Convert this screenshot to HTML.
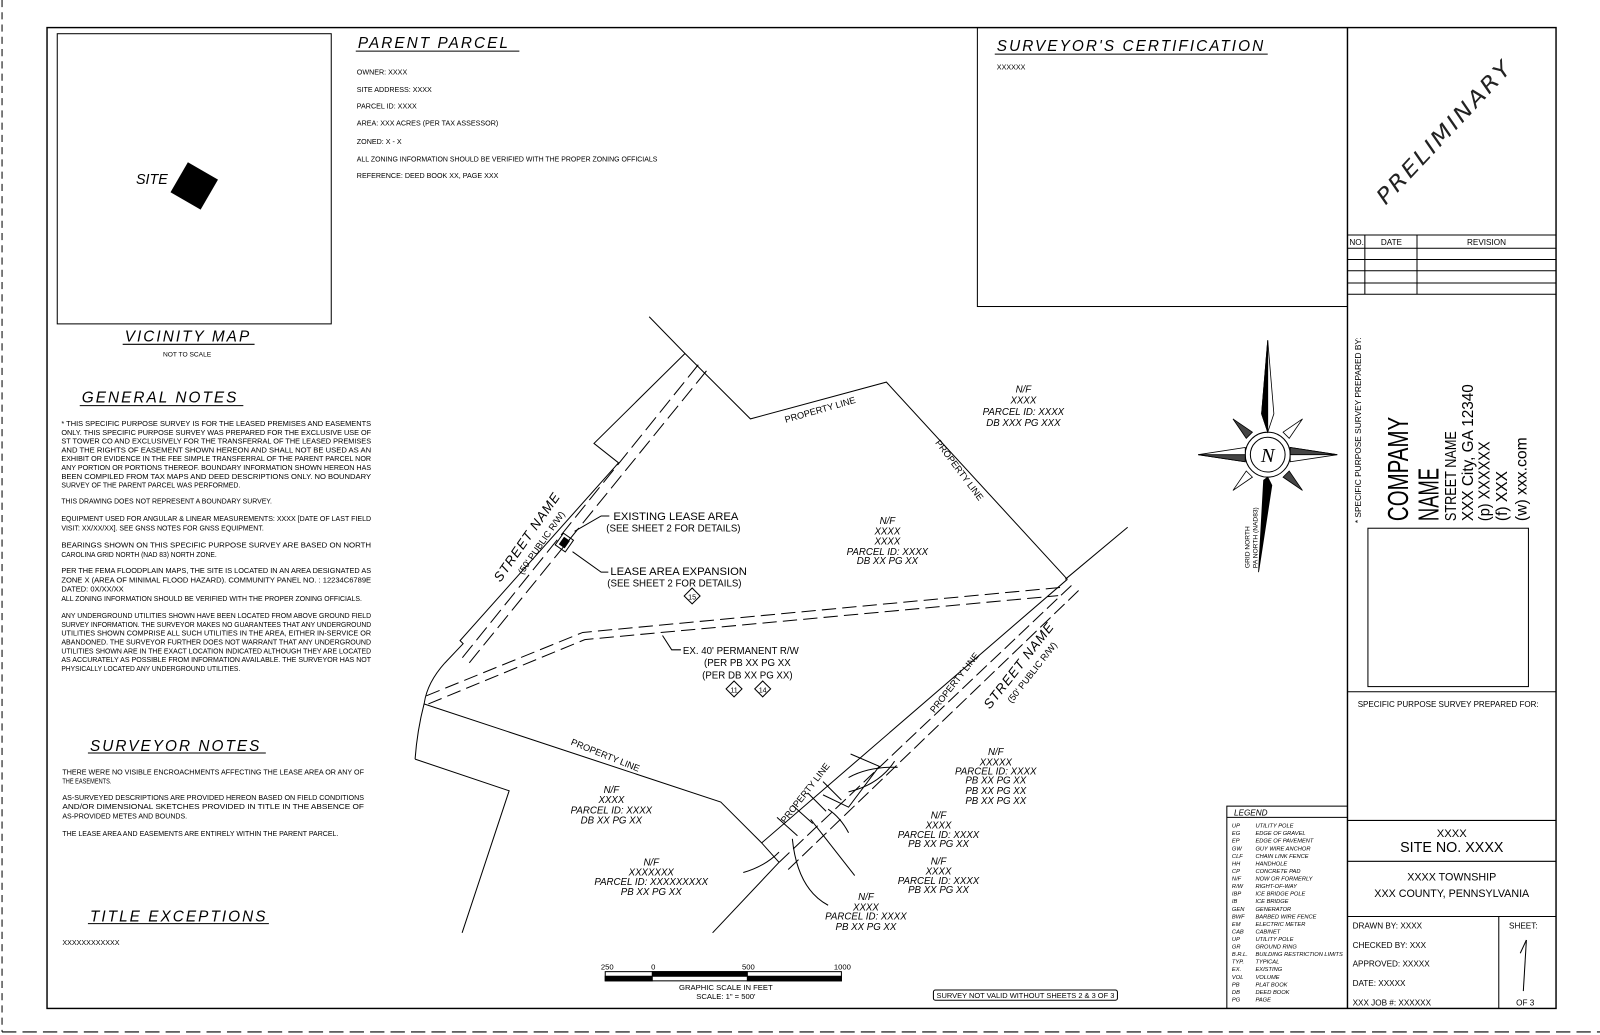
<!DOCTYPE html>
<html><head><meta charset="utf-8"><style>
html,body{margin:0;padding:0;background:#fff;}
svg{display:block;}
text{font-family:"Liberation Sans Narrow","Liberation Sans",sans-serif;fill:#000;}
.it{font-style:italic;}
.t{font-size:7px;}
.h{font-size:15px;font-style:italic;letter-spacing:2px;}
</style></head><body>
<svg width="1600" height="1035" viewBox="0 0 1565 1013" preserveAspectRatio="none" xmlns="http://www.w3.org/2000/svg">
<rect width="1565" height="1013" fill="#fff"/>
<g stroke="#000" fill="none" stroke-width="1">
<line x1="2" y1="0" x2="2" y2="1010" stroke-dasharray="7,5"/>
<line x1="2" y1="1010" x2="1565" y2="1010" stroke-dasharray="14,6"/>
<rect x="46" y="27" width="1476" height="960" stroke-width="1.4"/>
<rect x="56" y="33" width="268" height="284"/>
<rect x="956" y="27" width="362" height="273"/>
<line x1="1318" y1="27" x2="1318" y2="987" stroke-width="1.4"/>
<line x1="1318" y1="230" x2="1522" y2="230"/>
<line x1="1318" y1="243" x2="1522" y2="243"/>
<line x1="1318" y1="254" x2="1522" y2="254"/>
<line x1="1318" y1="265" x2="1522" y2="265"/>
<line x1="1318" y1="277" x2="1522" y2="277"/>
<line x1="1318" y1="288" x2="1522" y2="288"/>
<line x1="1335" y1="230" x2="1335" y2="288"/>
<line x1="1386" y1="230" x2="1386" y2="288"/>
<rect x="1338" y="517" width="157" height="155"/>
<line x1="1318" y1="677" x2="1522" y2="677"/>
<line x1="1318" y1="803" x2="1522" y2="803"/>
<line x1="1318" y1="843" x2="1522" y2="843"/>
<line x1="1318" y1="897" x2="1522" y2="897"/>
<line x1="1466" y1="897" x2="1466" y2="987"/>
<rect x="1200" y="789" width="118" height="198"/>
<line x1="1200" y1="800" x2="1318" y2="800"/>
<line x1="348" y1="50" x2="508" y2="50"/>
<line x1="973" y1="53" x2="1240" y2="53"/>
<line x1="120" y1="337" x2="249" y2="337"/>
<line x1="78" y1="397" x2="238" y2="397"/>
<line x1="86" y1="737" x2="260" y2="737"/>
<line x1="86" y1="904" x2="263" y2="904"/>
<polyline points="635,310 670,346 734,410 867,374 1044,567"/>
<polyline points="670,346 581,434 605,453 450,627 453,630 435,649"/>
<path d="M435,649 Q418,668 415,688 Q408,715 406,743"/>
<line x1="683" y1="357" x2="452" y2="644" stroke-dasharray="16,6"/>
<line x1="691" y1="363" x2="458" y2="650" stroke-dasharray="16,6"/>
<polyline points="417,681 570,619 1037,575" stroke-dasharray="14,6"/>
<polyline points="419,689 572,626 1035,583" stroke-dasharray="14,6"/>
<polyline points="648,622 657,636 666,636"/>
<polyline points="415,689 705,785 745,825"/>
<polyline points="406,743 498,774 452,913"/>
<line x1="1103" y1="516" x2="1042" y2="567"/>
<line x1="1044" y1="567" x2="745" y2="825"/>
<line x1="1048" y1="573" x2="762" y2="844" stroke-dasharray="14,5"/>
<line x1="1055" y1="578" x2="770" y2="852" stroke-dasharray="14,5"/>
<line x1="762" y1="844" x2="697" y2="913"/>
<polyline points="832,738 860,750 830,790 805,778"/>
<line x1="760" y1="800" x2="780" y2="818"/>
<line x1="775" y1="788" x2="795" y2="806"/>
<line x1="790" y1="776" x2="808" y2="794"/>
<line x1="805" y1="765" x2="823" y2="783"/>
<line x1="745" y1="825" x2="762" y2="844"/>
<path d="M727,854 Q748,848 762,834"/>
<path d="M775,821 Q780,870 810,886"/>
<path d="M793,802 Q815,830 836,857"/>
<path d="M810,792 Q822,800 830,815"/>
<path d="M830,761 Q850,750 878,751"/>
<path d="M830,775 Q860,768 875,745"/>
<rect x="546" y="524" width="12" height="14" transform="rotate(35 552 531)"/>
<rect x="549" y="527" width="6" height="8" transform="rotate(35 552 531)" fill="#000"/>
<polyline points="562,520 588,505 596,505"/>
<polyline points="560,540 588,560 595,560"/>
<rect x="671" y="578" width="11" height="11" transform="rotate(45 677 584)"/>
<rect x="712" y="669" width="11" height="11" transform="rotate(45 718 675)"/>
<rect x="740" y="669" width="11" height="11" transform="rotate(45 746 675)"/>
<rect x="592" y="951" width="231" height="9"/>
<rect x="592" y="955.5" width="46" height="4.5" fill="#000"/>
<rect x="638" y="951" width="93" height="4.5" fill="#000"/>
<rect x="731" y="955.5" width="92" height="4.5" fill="#000"/>
<rect x="913" y="969" width="180" height="10" rx="2"/>
<circle cx="1240" cy="445" r="22"/>
<circle cx="1240" cy="445" r="17"/>
</g>
<rect x="173" y="165" width="34" height="34" transform="rotate(30 190 182)" fill="#000"/>
<g stroke="#000" stroke-width="0.8">
<polygon points="1240,333 1246,405 1240,423 1234,405" fill="#fff"/>
<polygon points="1240,333 1240,423 1234,405" fill="#000"/>
<polygon points="1240,467 1244,475 1231,560 1236,470" fill="#000"/>
<polygon points="1172,445 1218,438 1218,452" fill="#fff"/>
<polygon points="1172,445 1218,445 1218,452" fill="#444"/>
<polygon points="1308,445 1262,438 1262,452" fill="#fff"/>
<polygon points="1308,445 1262,445 1262,438" fill="#444"/>
<polygon points="1206,410 1225,423 1219,429" fill="#444"/>
<polygon points="1274,410 1255,423 1261,429" fill="#fff"/>
<polygon points="1206,480 1225,467 1219,461" fill="#fff"/>
<polygon points="1274,480 1255,467 1261,461" fill="#444"/>
</g>
<text x="1240" y="452" text-anchor="middle" style="font-family:'Liberation Serif',serif;font-style:italic;font-size:20px">N</text>
<g class="t"><text transform="translate(1222,556) rotate(-90)" font-size="6.5">GRID NORTH</text><text transform="translate(1230,556) rotate(-90)" font-size="6.5">PA NORTH (NAD83)</text></g>
<text x="350" y="47" class="h">PARENT PARCEL</text>
<text x="975" y="50" class="h">SURVEYOR'S CERTIFICATION</text>
<text x="122" y="334" class="h">VICINITY MAP</text>
<text x="80" y="394" class="h">GENERAL NOTES</text>
<text x="88" y="735" class="h">SURVEYOR NOTES</text>
<text x="88" y="902" class="h">TITLE EXCEPTIONS</text>
<text x="133" y="180" class="it" font-size="14">SITE</text>
<text x="183" y="349" text-anchor="middle" font-size="6.5">NOT TO SCALE</text>
<g class="t">
<text x="349" y="73">OWNER: XXXX</text>
<text x="349" y="90">SITE ADDRESS: XXXX</text>
<text x="349" y="106">PARCEL ID: XXXX</text>
<text x="349" y="123">AREA: XXX ACRES (PER TAX ASSESSOR)</text>
<text x="349" y="141">ZONED: X - X</text>
<text x="349" y="158" textLength="294" lengthAdjust="spacingAndGlyphs">ALL ZONING INFORMATION SHOULD BE VERIFIED WITH THE PROPER ZONING OFFICIALS</text>
<text x="349" y="174">REFERENCE: DEED BOOK XX, PAGE XXX</text>
<text x="975" y="68">XXXXXX</text>
<text x="61" y="925">XXXXXXXXXXXX</text>
</g>
<g class="t">
<text x="60" y="417" textLength="303" lengthAdjust="spacingAndGlyphs">* THIS SPECIFIC PURPOSE SURVEY IS FOR THE LEASED PREMISES AND EASEMENTS</text>
<text x="60" y="425.6" textLength="303" lengthAdjust="spacingAndGlyphs">ONLY. THIS SPECIFIC PURPOSE SURVEY WAS PREPARED FOR THE EXCLUSIVE USE OF</text>
<text x="60" y="434.2" textLength="303" lengthAdjust="spacingAndGlyphs">ST TOWER CO AND EXCLUSIVELY FOR THE TRANSFERRAL OF THE LEASED PREMISES</text>
<text x="60" y="442.8" textLength="303" lengthAdjust="spacingAndGlyphs">AND THE RIGHTS OF EASEMENT SHOWN HEREON AND SHALL NOT BE USED AS AN</text>
<text x="60" y="451.4" textLength="303" lengthAdjust="spacingAndGlyphs">EXHIBIT OR EVIDENCE IN THE FEE SIMPLE TRANSFERRAL OF THE PARENT PARCEL NOR</text>
<text x="60" y="460" textLength="303" lengthAdjust="spacingAndGlyphs">ANY PORTION OR PORTIONS THEREOF. BOUNDARY INFORMATION SHOWN HEREON HAS</text>
<text x="60" y="468.6" textLength="303" lengthAdjust="spacingAndGlyphs">BEEN COMPILED FROM TAX MAPS AND DEED DESCRIPTIONS ONLY. NO BOUNDARY</text>
<text x="60" y="477.2" textLength="175" lengthAdjust="spacingAndGlyphs">SURVEY OF THE PARENT PARCEL WAS PERFORMED.</text>
<text x="60" y="493" textLength="206" lengthAdjust="spacingAndGlyphs">THIS DRAWING DOES NOT REPRESENT A BOUNDARY SURVEY.</text>
<text x="60" y="510" textLength="303" lengthAdjust="spacingAndGlyphs">EQUIPMENT USED FOR ANGULAR &amp; LINEAR MEASUREMENTS: XXXX [DATE OF LAST FIELD</text>
<text x="60" y="519" textLength="198" lengthAdjust="spacingAndGlyphs">VISIT: XX/XX/XX]. SEE GNSS NOTES FOR GNSS EQUIPMENT.</text>
<text x="60" y="536" textLength="303" lengthAdjust="spacingAndGlyphs">BEARINGS SHOWN ON THIS SPECIFIC PURPOSE SURVEY ARE BASED ON NORTH</text>
<text x="60" y="545" textLength="152" lengthAdjust="spacingAndGlyphs">CAROLINA GRID NORTH (NAD 83) NORTH ZONE.</text>
<text x="60" y="561" textLength="303" lengthAdjust="spacingAndGlyphs">PER THE FEMA FLOODPLAIN MAPS, THE SITE IS LOCATED IN AN AREA DESIGNATED AS</text>
<text x="60" y="570" textLength="303" lengthAdjust="spacingAndGlyphs">ZONE X (AREA OF MINIMAL FLOOD HAZARD). COMMUNITY PANEL NO. : 12234C6789E</text>
<text x="60" y="579" textLength="61" lengthAdjust="spacingAndGlyphs">DATED: 0X/XX/XX</text>
<text x="60" y="588" textLength="294" lengthAdjust="spacingAndGlyphs">ALL ZONING INFORMATION SHOULD BE VERIFIED WITH THE PROPER ZONING OFFICIALS.</text>
<text x="60" y="605" textLength="303" lengthAdjust="spacingAndGlyphs">ANY UNDERGROUND UTILITIES SHOWN HAVE BEEN LOCATED FROM ABOVE GROUND FIELD</text>
<text x="60" y="613.6" textLength="303" lengthAdjust="spacingAndGlyphs">SURVEY INFORMATION. THE SURVEYOR MAKES NO GUARANTEES THAT ANY UNDERGROUND</text>
<text x="60" y="622.2" textLength="303" lengthAdjust="spacingAndGlyphs">UTILITIES SHOWN COMPRISE ALL SUCH UTILITIES IN THE AREA, EITHER IN-SERVICE OR</text>
<text x="60" y="630.8" textLength="303" lengthAdjust="spacingAndGlyphs">ABANDONED. THE SURVEYOR FURTHER DOES NOT WARRANT THAT ANY UNDERGROUND</text>
<text x="60" y="639.4" textLength="303" lengthAdjust="spacingAndGlyphs">UTILITIES SHOWN ARE IN THE EXACT LOCATION INDICATED ALTHOUGH THEY ARE LOCATED</text>
<text x="60" y="648" textLength="303" lengthAdjust="spacingAndGlyphs">AS ACCURATELY AS POSSIBLE FROM INFORMATION AVAILABLE. THE SURVEYOR HAS NOT</text>
<text x="60" y="656.6" textLength="175" lengthAdjust="spacingAndGlyphs">PHYSICALLY LOCATED ANY UNDERGROUND UTILITIES.</text>
<text x="61" y="758" textLength="295" lengthAdjust="spacingAndGlyphs">THERE WERE NO VISIBLE ENCROACHMENTS AFFECTING THE LEASE AREA OR ANY OF</text>
<text x="61" y="767" textLength="48" lengthAdjust="spacingAndGlyphs">THE EASEMENTS.</text>
<text x="61" y="783" textLength="295" lengthAdjust="spacingAndGlyphs">AS-SURVEYED DESCRIPTIONS ARE PROVIDED HEREON BASED ON FIELD CONDITIONS</text>
<text x="61" y="792" textLength="295" lengthAdjust="spacingAndGlyphs">AND/OR DIMENSIONAL SKETCHES PROVIDED IN TITLE IN THE ABSENCE OF</text>
<text x="61" y="801" textLength="122" lengthAdjust="spacingAndGlyphs">AS-PROVIDED METES AND BOUNDS.</text>
<text x="61" y="818" textLength="270" lengthAdjust="spacingAndGlyphs">THE LEASE AREA AND EASEMENTS ARE ENTIRELY WITHIN THE PARENT PARCEL.</text>
</g>
<g font-size="9">
<text transform="translate(803,404) rotate(-16)" text-anchor="middle">PROPERTY LINE</text>
<text transform="translate(936,462) rotate(53)" text-anchor="middle">PROPERTY LINE</text>
<text transform="translate(591,742) rotate(22)" text-anchor="middle">PROPERTY LINE</text>
<text transform="translate(936,670) rotate(-52)" text-anchor="middle">PROPERTY LINE</text>
<text transform="translate(790,778) rotate(-52)" text-anchor="middle">PROPERTY LINE</text>
</g>
<text transform="translate(519,528) rotate(-55)" text-anchor="middle" class="it" font-size="13" letter-spacing="1">STREET NAME</text>
<text transform="translate(532,533) rotate(-55)" text-anchor="middle" font-size="9">(50' PUBLIC R/W)</text>
<text transform="translate(1000,654) rotate(-52)" text-anchor="middle" class="it" font-size="13" letter-spacing="1">STREET NAME</text>
<text transform="translate(1012,660) rotate(-52)" text-anchor="middle" font-size="9">(50' PUBLIC R/W)</text>
<text x="600" y="509" font-size="11">EXISTING LEASE AREA</text>
<text x="593" y="520" font-size="9.5">(SEE SHEET 2 FOR DETAILS)</text>
<text x="597" y="563" font-size="11">LEASE AREA EXPANSION</text>
<text x="594" y="574" font-size="9.5">(SEE SHEET 2 FOR DETAILS)</text>
<g font-size="7" text-anchor="middle"><text x="677" y="587">15</text><text x="718" y="678">11</text><text x="746" y="678">14</text></g>
<g font-size="9.5" text-anchor="middle">
<text x="668" y="640" text-anchor="start">EX. 40' PERMANENT R/W</text>
<text x="731" y="652">(PER PB XX PG XX</text>
<text x="731" y="664">(PER DB XX PG XX)</text>
</g>
<g class="it" font-size="9.5" text-anchor="middle">
<text x="1001" y="384">N/F</text><text x="1001" y="395">XXXX</text><text x="1001" y="406">PARCEL ID: XXXX</text><text x="1001" y="417">DB XXX PG XXX</text>
<text x="868" y="513">N/F</text><text x="868" y="523">XXXX</text><text x="868" y="533">XXXX</text><text x="868" y="543">PARCEL ID: XXXX</text><text x="868" y="552">DB XX PG XX</text>
<text x="598" y="776">N/F</text><text x="598" y="786">XXXX</text><text x="598" y="796">PARCEL ID: XXXX</text><text x="598" y="806">DB XX PG XX</text>
<text x="974" y="739">N/F</text><text x="974" y="749">XXXXX</text><text x="974" y="758">PARCEL ID: XXXX</text><text x="974" y="767">PB XX PG XX</text><text x="974" y="777">PB XX PG XX</text><text x="974" y="787">PB XX PG XX</text>
<text x="918" y="801">N/F</text><text x="918" y="811">XXXX</text><text x="918" y="820">PARCEL ID: XXXX</text><text x="918" y="829">PB XX PG XX</text>
<text x="918" y="846">N/F</text><text x="918" y="856">XXXX</text><text x="918" y="865">PARCEL ID: XXXX</text><text x="918" y="874">PB XX PG XX</text>
<text x="637" y="847">N/F</text><text x="637" y="857">XXXXXXX</text><text x="637" y="866">PARCEL ID: XXXXXXXXX</text><text x="637" y="876">PB XX PG XX</text>
<text x="847" y="881">N/F</text><text x="847" y="891">XXXX</text><text x="847" y="900">PARCEL ID: XXXX</text><text x="847" y="910">PB XX PG XX</text>
</g>
<g font-size="7.5" text-anchor="middle">
<text x="594" y="949">250</text><text x="639" y="949">0</text><text x="732" y="949">500</text><text x="824" y="949">1000</text>
<text x="710" y="969">GRAPHIC SCALE IN FEET</text>
<text x="710" y="978">SCALE: 1" = 500'</text>
</g>
<text x="1003" y="977" font-size="7" text-anchor="middle" textLength="174" lengthAdjust="spacingAndGlyphs">SURVEY NOT VALID WITHOUT SHEETS 2 &amp; 3 OF 3</text>
<text transform="translate(1418,134) rotate(-47)" text-anchor="middle" font-size="21" letter-spacing="2" style="font-family:'DejaVu Sans','Liberation Sans',sans-serif;font-style:italic;font-weight:200;fill:#222" textLength="184" lengthAdjust="spacingAndGlyphs">PRELIMINARY</text>
<g font-size="8" text-anchor="middle"><text x="1327" y="240">NO.</text><text x="1361" y="240">DATE</text><text x="1454" y="240">REVISION</text></g>
<text transform="translate(1331,512) rotate(-90)" font-size="8" textLength="182" lengthAdjust="spacingAndGlyphs">* SPECIFIC PURPOSE SURVEY PREPARED BY:</text>
<text transform="translate(1377,510) rotate(-90)" font-size="28" textLength="102" lengthAdjust="spacingAndGlyphs">COMPAMY</text>
<text transform="translate(1407,510) rotate(-90)" font-size="28" textLength="52" lengthAdjust="spacingAndGlyphs">NAME</text>
<text transform="translate(1424,510) rotate(-90)" font-size="15" textLength="88" lengthAdjust="spacingAndGlyphs">STREET NAME</text>
<text transform="translate(1441,510) rotate(-90)" font-size="15" textLength="134" lengthAdjust="spacingAndGlyphs">XXX City, GA 12340</text>
<text transform="translate(1457,510) rotate(-90)" font-size="15" textLength="78" lengthAdjust="spacingAndGlyphs">(p) XXXXXX</text>
<text transform="translate(1474,510) rotate(-90)" font-size="15" textLength="49" lengthAdjust="spacingAndGlyphs">(f) XXX</text>
<text transform="translate(1493,510) rotate(-90)" font-size="15" textLength="82" lengthAdjust="spacingAndGlyphs">(w) xxx.com</text>
<text x="1328" y="692" font-size="8.5" textLength="177" lengthAdjust="spacingAndGlyphs">SPECIFIC PURPOSE SURVEY PREPARED FOR:</text>
<g text-anchor="middle"><text x="1420" y="819" font-size="11">XXXX</text><text x="1420" y="834" font-size="14">SITE NO. XXXX</text>
<text x="1420" y="862" font-size="10.5">XXXX TOWNSHIP</text><text x="1420" y="878" font-size="10.5">XXX COUNTY, PENNSYLVANIA</text></g>
<g font-size="8"><text x="1323" y="909">DRAWN BY: XXXX</text><text x="1323" y="928">CHECKED BY: XXX</text><text x="1323" y="946">APPROVED: XXXXX</text><text x="1323" y="965">DATE: XXXXX</text><text x="1323" y="984">XXX JOB #: XXXXXX</text>
<text x="1476" y="909">SHEET:</text><text x="1483" y="984">OF 3</text></g>
<line x1="1493" y1="920" x2="1487" y2="933" stroke="#000"/><line x1="1493" y1="920" x2="1490" y2="970" stroke="#000"/>
<text x="1207" y="798" class="it" font-size="8">LEGEND</text>
<g class="it" font-size="5.6">
<text x="1205" y="810">UP</text><text x="1228" y="810">UTILITY POLE</text>
<text x="1205" y="817.4">EG</text><text x="1228" y="817.4">EDGE OF GRAVEL</text>
<text x="1205" y="824.8">EP</text><text x="1228" y="824.8">EDGE OF PAVEMENT</text>
<text x="1205" y="832.2">GW</text><text x="1228" y="832.2">GUY WIRE ANCHOR</text>
<text x="1205" y="839.6">CLF</text><text x="1228" y="839.6">CHAIN LINK FENCE</text>
<text x="1205" y="847">HH</text><text x="1228" y="847">HANDHOLE</text>
<text x="1205" y="854.4">CP</text><text x="1228" y="854.4">CONCRETE PAD</text>
<text x="1205" y="861.8">N/F</text><text x="1228" y="861.8">NOW OR FORMERLY</text>
<text x="1205" y="869.2">R/W</text><text x="1228" y="869.2">RIGHT-OF-WAY</text>
<text x="1205" y="876.6">IBP</text><text x="1228" y="876.6">ICE BRIDGE POLE</text>
<text x="1205" y="884">IB</text><text x="1228" y="884">ICE BRIDGE</text>
<text x="1205" y="891.4">GEN</text><text x="1228" y="891.4">GENERATOR</text>
<text x="1205" y="898.8">BWF</text><text x="1228" y="898.8">BARBED WIRE FENCE</text>
<text x="1205" y="906.2">EM</text><text x="1228" y="906.2">ELECTRIC METER</text>
<text x="1205" y="913.6">CAB</text><text x="1228" y="913.6">CABINET</text>
<text x="1205" y="921">UP</text><text x="1228" y="921">UTILITY POLE</text>
<text x="1205" y="928.4">GR</text><text x="1228" y="928.4">GROUND RING</text>
<text x="1205" y="935.8">B.R.L.</text><text x="1228" y="935.8">BUILDING RESTRICTION LIMITS</text>
<text x="1205" y="943.2">TYP.</text><text x="1228" y="943.2">TYPICAL</text>
<text x="1205" y="950.6">EX.</text><text x="1228" y="950.6">EXISTING</text>
<text x="1205" y="958">VOL</text><text x="1228" y="958">VOLUME</text>
<text x="1205" y="965.4">PB</text><text x="1228" y="965.4">PLAT BOOK</text>
<text x="1205" y="972.8">DB</text><text x="1228" y="972.8">DEED BOOK</text>
<text x="1205" y="980.2">PG</text><text x="1228" y="980.2">PAGE</text>
</g>
</svg>
</body></html>
